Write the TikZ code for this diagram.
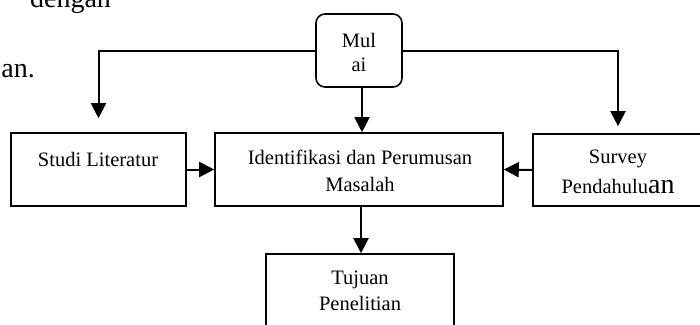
\documentclass[tikz,border=0pt]{standalone}
\usepackage{fontspec}
\setmainfont{Liberation Serif}
\usetikzlibrary{positioning}
\usetikzlibrary{arrows.meta}
\newcommand{\boxfont}{\fontsize{20.5}{27}\selectfont}
\newcommand{\bodyfont}{\fontsize{28}{34}\selectfont}
\tikzset{
    box/.style = {rectangle,draw,line width=1.6pt,inner sep=0pt},
    startbox/.style = {box,rounded corners=9pt},
    boxtext/.style = {align=center,inner sep=0pt,anchor=north,font=\boxfont},
    bodytext/.style = {inner sep=0pt,font=\bodyfont},
    flow/.style = {line width=2pt,-{Triangle[length=15pt,width=15pt]}}}

\begin{document}
\begin{tikzpicture}[x=1pt,y=-1pt]
        \useasboundingbox (0,0) rectangle (700,324);
        % running text round the figure
        \node[bodytext,anchor=base] (dengan) at (70.5,8) {dengan};
        \node[bodytext,anchor=base east] (kalimat) at (35,77) {an.};
        % boxes
        \node[startbox,minimum width=86pt,minimum height=73pt] (mulai) at (359,50.5) {};
        \node[box,minimum width=175pt,minimum height=73pt] (studi) at (98.5,169.5) {};
        \node[box,minimum width=288pt,minimum height=73pt] (ident) at (359,169.5) {};
        \node[box,minimum width=170pt,minimum height=72pt] (survey) at (618,170) {};
        \node[box,minimum width=188pt,minimum height=100pt] (tujuan) at (360,304) {};
        % box texts
        \node[boxtext] (mulai-txt) at (359,33) {Mul\\[-3pt]ai};
        \node[boxtext] (studi-txt) at (98,152) {Studi Literatur};
        \node[boxtext] (ident-txt) at (360,150) {Identifikasi dan Perumusan\\Masalah};
        \node[boxtext] (survey-txt) at (618,149.5) {Survey\\[3pt]Pendahulu{\bodyfont an}};
        \node[boxtext] (tujuan-txt) at (360,271) {Tujuan\\[-1pt]Penelitian};
        % connectors
        \draw[flow,shorten >=14pt] (mulai.west) -| (studi.north);
        \draw[flow,shorten >=7pt] (mulai.east) -| (survey.north);
        \draw[flow] ([xshift=3pt]mulai.south) -- ([xshift=3pt]mulai.south |- ident.north);
        \draw[flow] (studi.east) -- (ident.west);
        \draw[flow] (survey.west) -- (ident.east);
        \draw[flow] ([xshift=2pt]ident.south) -- ([xshift=2pt]ident.south |- tujuan.north);
\end{tikzpicture}
\end{document}
